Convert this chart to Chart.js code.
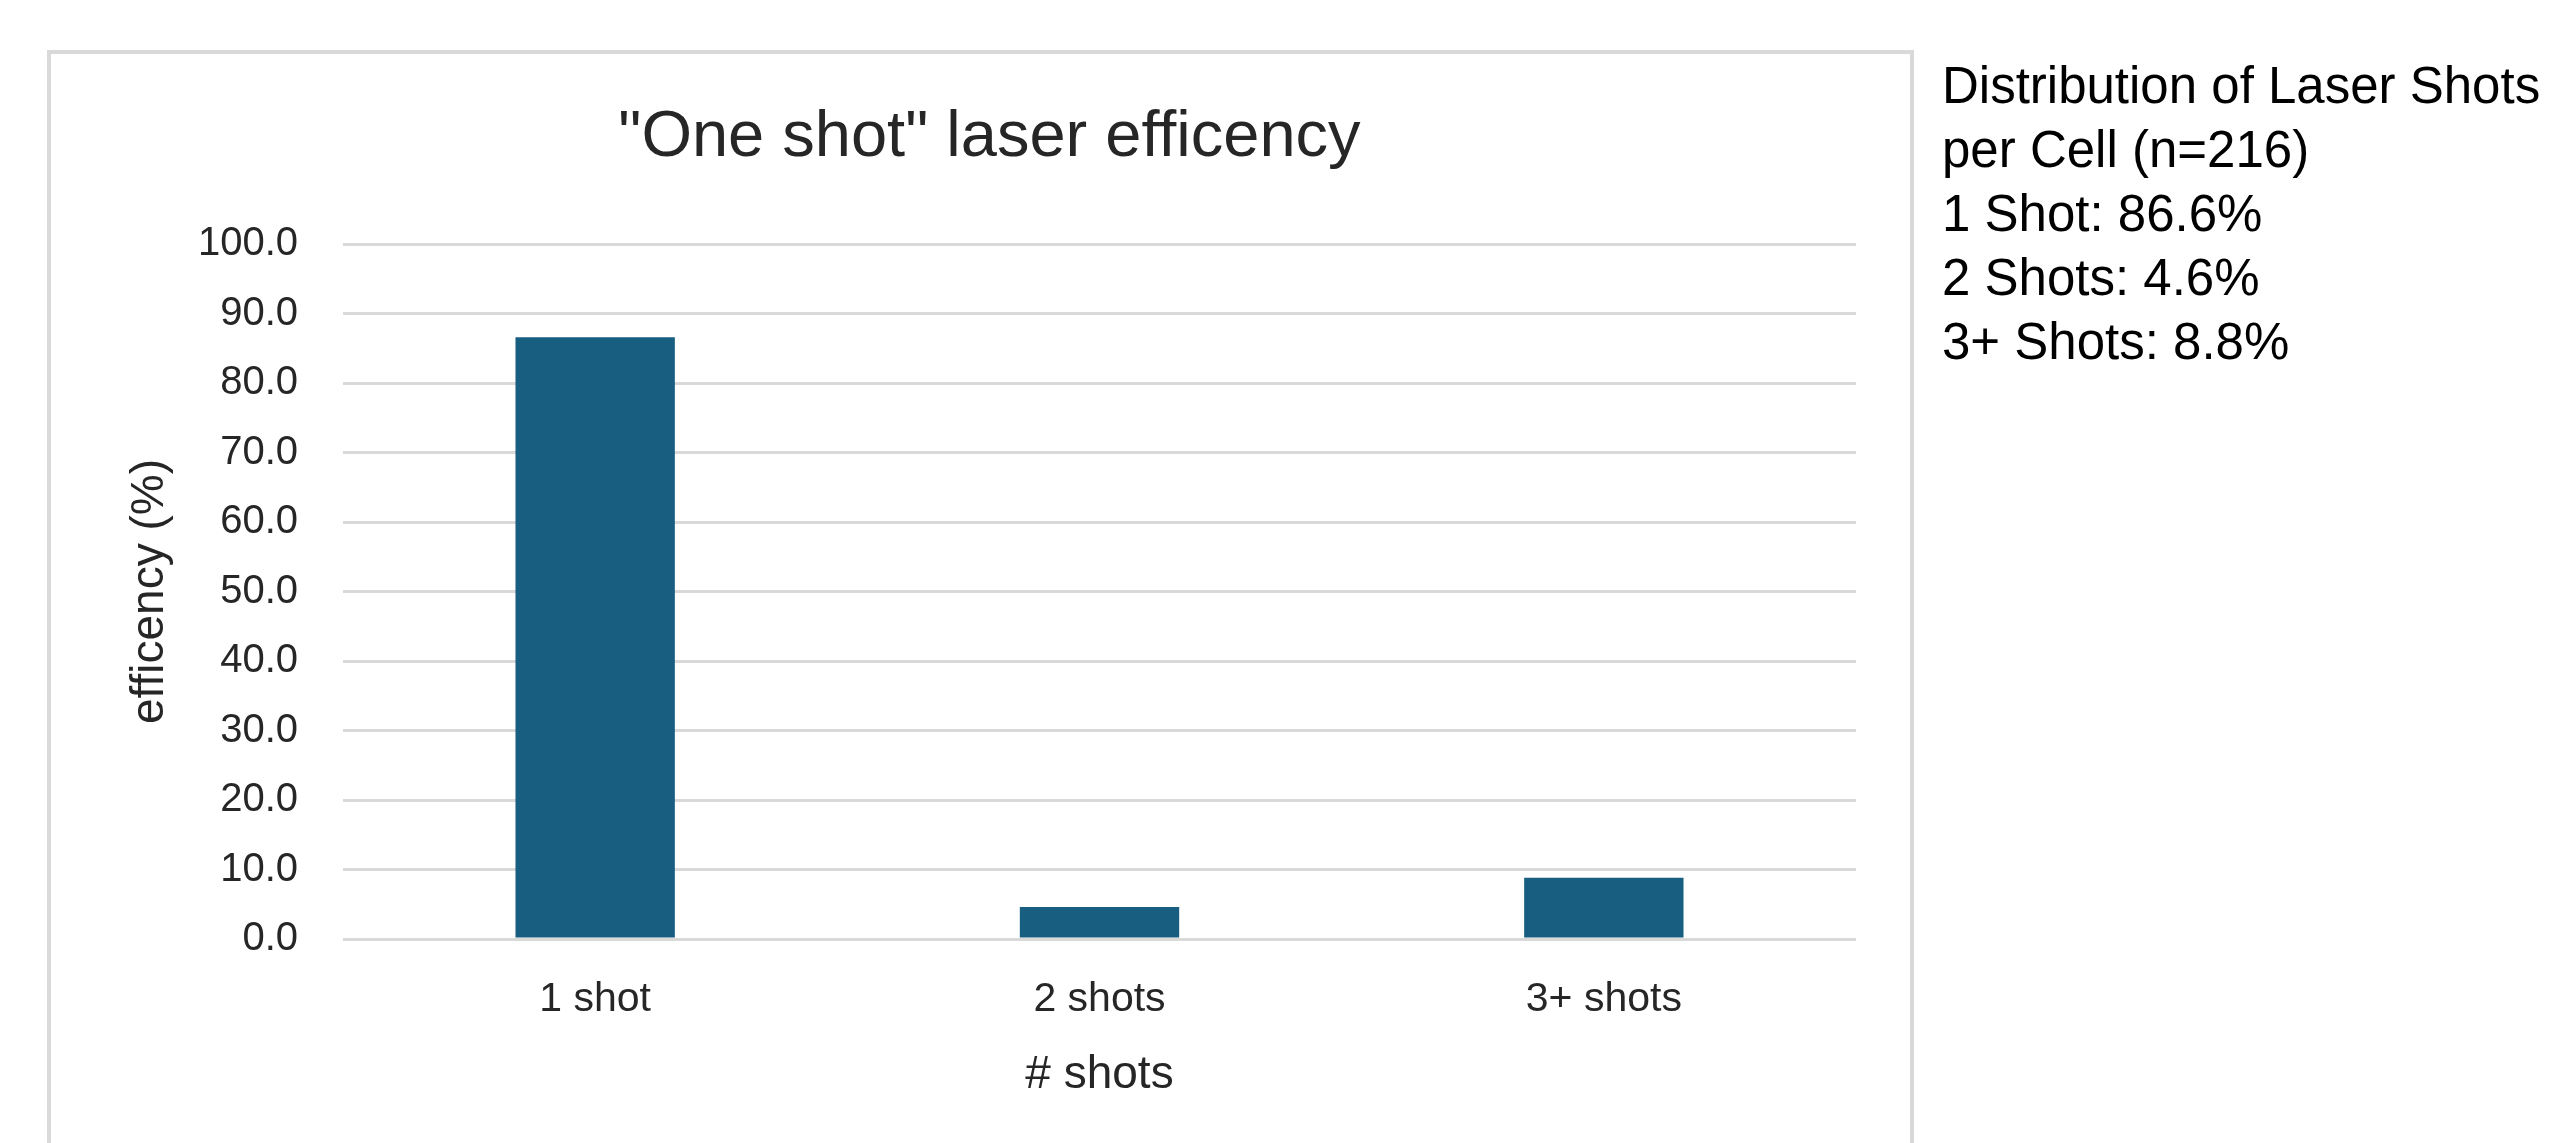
<!DOCTYPE html>
<html>
<head>
<meta charset="utf-8">
<script src="https://cdn.jsdelivr.net/npm/chart.js@4"></script>
<style>
  html, body { margin: 0; padding: 0; background: #ffffff; overflow: hidden; }
  body { width: 2566px; height: 1143px; position: relative; }
  #box {
    position: absolute; left: 47px; top: 50px;
    width: 1859px; height: 1200px;
    border: 4px solid #d9d9d9;
    background: #ffffff;
  }
  #chart { position: absolute; left: 0; top: 0; }
  #side {
    position: absolute; left: 1942px; top: 54px;
    font-family: "Liberation Sans", Arial, sans-serif;
    font-size: 51px; line-height: 64px; color: #000000;
    white-space: nowrap;
  }
</style>
</head>
<body>
<div id="box"><canvas id="chart" width="1859" height="1089"></canvas></div>
<div id="side"></div>
<script>
const categories = ['1 shot', '2 shots', '3+ shots'];
const efficiency = [86.6, 4.6, 8.8];
const sideHeading = ['Distribution of Laser Shots', 'per Cell (n=216)'];
const sideLabels = ['1 Shot', '2 Shots', '3+ Shots'];
const chartTitle = '"One shot" laser efficency';
const xTitle = '# shots';
const yTitle = 'efficency (%)';

const side = document.getElementById('side');
const lines = sideHeading.concat(sideLabels.map((l, i) => l + ': ' + efficiency[i].toFixed(1) + '%'));
side.innerHTML = lines.map(t => '<div>' + t.replace(/&/g, '&amp;').replace(/</g, '&lt;') + '</div>').join('');

const FONT = "'Liberation Sans', Arial, sans-serif";
const TEXT = '#262626';

new Chart(document.getElementById('chart'), {
  type: 'bar',
  data: {
    labels: categories,
    datasets: [{
      data: efficiency,
      backgroundColor: '#185e80',
      borderWidth: 0,
      categoryPercentage: 1.0,
      barPercentage: 0.316
    }]
  },
  options: {
    responsive: false,
    animation: false,
    devicePixelRatio: 1,
    layout: { padding: { left: 71.9, right: 54, top: 0, bottom: 40.4 } },
    plugins: {
      legend: { display: false },
      tooltip: { enabled: false },
      title: {
        display: true,
        text: chartTitle,
        color: TEXT,
        font: { family: FONT, size: 65, weight: 'normal', lineHeight: 1.2 },
        padding: { top: 45, bottom: 67 }
      }
    },
    scales: {
      x: {
        grid: { display: false, drawTicks: false },
        border: { display: false },
        ticks: {
          color: TEXT,
          padding: 36.4,
          font: { family: FONT, size: 41, lineHeight: 1.2 }
        },
        title: {
          display: true,
          text: xTitle,
          color: TEXT,
          font: { family: FONT, size: 46, lineHeight: 1.2 },
          padding: { top: 0, bottom: 0 }
        },
        afterFit: s => { s.height = 163.6; }
      },
      y: {
        min: 0,
        max: 100,
        grid: { color: '#d9d9d9', lineWidth: 3, drawTicks: false },
        border: { display: false },
        ticks: {
          stepSize: 10,
          color: TEXT,
          padding: 45,
          font: { family: FONT, size: 40, lineHeight: 1.2 },
          callback: v => Number(v).toFixed(1)
        },
        title: {
          display: true,
          text: yTitle,
          color: TEXT,
          font: { family: FONT, size: 46, lineHeight: 1.2 },
          padding: { top: 0, bottom: 0 }
        },
        afterFit: s => { s.width = 220.1; }
      }
    }
  }
});
</script>
</body>
</html>
